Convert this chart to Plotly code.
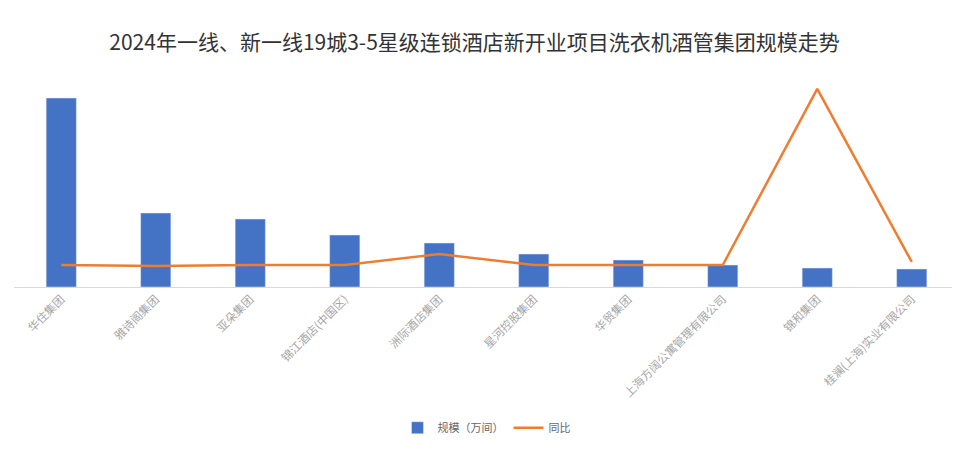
import plotly.graph_objects as go

categories = ["华住集团", "雅诗阁集团", "亚朵集团", "锦江酒店(中国区)", "洲际酒店集团",
              "星河控股集团", "华贸集团", "上海方阔公寓管理有限公司", "锦和集团", "桂澜(上海)实业有限公司"]
scale_vals = [9.45, 3.7, 3.4, 2.6, 2.2, 1.65, 1.35, 1.1, 0.95, 0.9]
yoy_vals = [10.6, 10.1, 10.6, 10.6, 15.9, 10.6, 10.6, 10.6, 95.7, 12.1]

fig = go.Figure()
fig.add_trace(go.Bar(x=categories, y=scale_vals, name="规模（万间）",
                     marker=dict(color="#4472C4"), yaxis="y"))
fig.add_trace(go.Scatter(x=categories, y=yoy_vals, name="同比", mode="lines",
                         line=dict(color="#ED7D31", width=2.5), yaxis="y2"))

fig.update_layout(
    width=960, height=462,
    margin=dict(l=6, r=9, t=72, b=183),
    paper_bgcolor="white", plot_bgcolor="white",
    title=dict(text="2024年一线、新一线19城3-5星级连锁酒店新开业项目洗衣机酒管集团规模走势",
               x=0.486, xanchor="center", y=0.925, yanchor="middle",
               font=dict(family="Noto Sans CJK SC", size=21, color="#333333")),
    font=dict(family="Noto Sans CJK SC", color="#999999"),
    bargap=0.68,
    showlegend=True,
    legend=dict(orientation="h", x=0.5, xanchor="center", y=-0.68, yanchor="middle",
                font=dict(size=11, color="#666666")),
    xaxis=dict(tickangle=-45, tickfont=dict(size=11.5, color="#A6A6A6"),
               showline=True, linecolor="#D9D9D9", linewidth=1, showgrid=False, ticks=""),
    yaxis=dict(range=[0, 10.35], visible=False, showgrid=False),
    yaxis2=dict(range=[0, 100], overlaying="y", side="right", visible=False, showgrid=False),
)

fig.write_html("out.html")
